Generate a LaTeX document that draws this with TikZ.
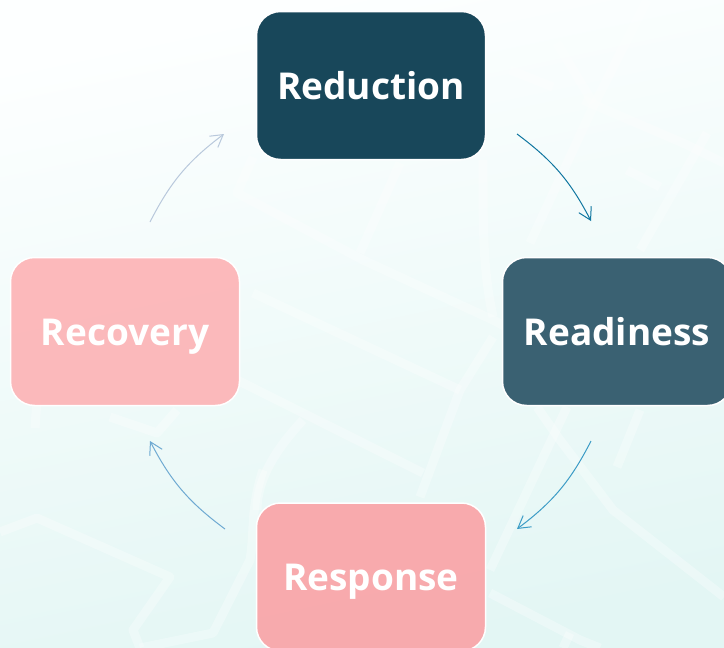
\documentclass[tikz,border=0pt]{standalone}
\usepackage{fontspec}
\setmainfont{Open Sans}
\usetikzlibrary{arrows.meta}
\definecolor{bgA}{HTML}{FDFFFF}
\definecolor{bgB}{HTML}{E3F6F4}
\definecolor{cReduction}{HTML}{18475A}
\definecolor{cReadiness}{HTML}{3A6172}
\definecolor{cResponse}{HTML}{FAA2A6}
\definecolor{cRecovery}{HTML}{FDB2B5}
\definecolor{arA}{HTML}{0F76A0}
\definecolor{arB}{HTML}{3C9CC6}
\definecolor{arC}{HTML}{6FAAD2}
\definecolor{arD}{HTML}{B9C9DC}
\tikzset{
  x=1pt,y=-1pt,
  phase/.style={draw=white,line width=1.5pt,rounded corners=24pt,minimum width=229pt,minimum height=148pt,
    inner sep=0pt,text=white,text height=27pt,text depth=0pt,
    font=\bfseries\fontsize{37pt}{44pt}\selectfont},
  flow/.style={line width=1pt,-{Straight Barb[length=12pt,width=14pt,line width=1pt]}},
  street/.style={draw=white,line width=9pt,opacity=.3,line join=round,line cap=butt}
}
\begin{document}
\begin{tikzpicture}
\useasboundingbox (0,0) rectangle (724,648);
\clip (0,0) rectangle (724,648);
\shade[top color=bgA,bottom color=bgB,shading angle=12] (0,0) rectangle (724,648);
% faint street map
\draw[street] (253,157) -- (237,193) -- (363,260) -- (493,320) -- (540,345);
\draw[street] (400,163) -- (360,253);
\draw[street] (253,293) -- (460,390);
\draw[street] (237,380) -- (423,473);
\draw[street] (303,420) .. controls (275,450) and (257,480) .. (257,510);
\draw[street] (493,337) -- (460,390) -- (420,497);
\draw[street] (483,160) .. controls (483,233) and (483,270) .. (493,317);
\draw[street] (537,407) -- (560,440) -- (613,510) -- (724,597);
\draw[street] (567,407) -- (490,570);
\draw[street] (640,410) -- (617,467);
\draw[street] (490,593) -- (580,640) -- (600,648);
\draw[street] (570,633) -- (563,648);
\draw[street] (647,0) -- (593,107) -- (530,243);
\draw[street] (583,100) -- (683,143) -- (724,163);
\draw[street] (627,170) -- (660,187);
\draw[street] (707,133) -- (640,250);
\draw[street] (557,43) -- (593,103);
\draw[street] (510,70) -- (553,87);
\draw[street] (0,532) -- (37,518) -- (170,577) -- (133,630) -- (140,648);
\draw[street] (37,400) -- (35,428);
\draw[street] (110,417) -- (157,433) -- (177,410);
\draw[street] (263,470) .. controls (250,510) and (255,530) .. (250,560) -- (213,633) -- (140,648);
% phases
\node[phase,fill=cReduction] (reduction) at (371,85.5) {Reduction};
\node[phase,fill=cReadiness] (readiness) at (617,331.5) {Readiness};
\node[phase,fill=cResponse,fill opacity=.9,text opacity=1] (response) at (371,577) {Response};
\node[phase,fill=cRecovery,fill opacity=.9,text opacity=1] (recovery) at (125,331.5) {Recovery};
% connector ends
\coordinate (a1) at (517,134);
\coordinate (a2) at (591,221);
\coordinate (b1) at (591,441);
\coordinate (b2) at (517,529);
\coordinate (c1) at (225,529);
\coordinate (c2) at (150,441);
\coordinate (d1) at (150,222);
\coordinate (d2) at (224,134);
\draw[flow,draw=arA] (a1) to[bend left=13] (a2);
\draw[flow,draw=arB] (b1) to[bend left=13] (b2);
\draw[flow,draw=arC] (c1) to[bend left=13] (c2);
\draw[flow,draw=arD] (d1) to[bend left=13] (d2);
\end{tikzpicture}
\end{document}
